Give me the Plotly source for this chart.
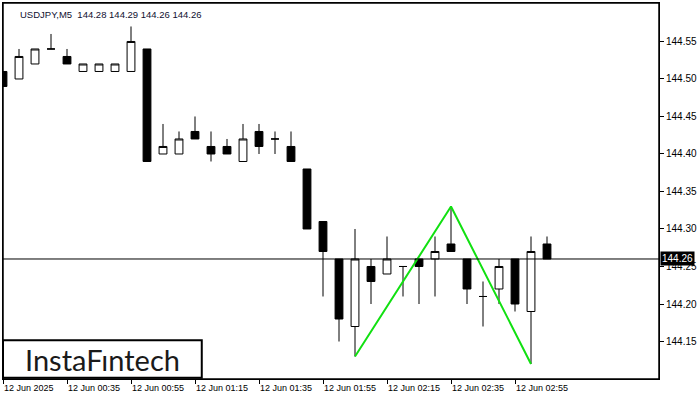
import pandas as pd
import plotly.graph_objects as go

# USDJPY M5 candles, 12 Jun 2025, from 00:15
times = pd.date_range("2025-06-12 00:15", periods=35, freq="5min")
opens = [144.51, 144.50, 144.52, 144.54, 144.53, 144.51, 144.51, 144.51, 144.51, 144.54,
         144.40, 144.40, 144.43, 144.41, 144.41, 144.39, 144.43, 144.42, 144.41, 144.38,
         144.31, 144.26, 144.17, 144.25, 144.24, 144.25, 144.26, 144.26, 144.28, 144.26,
         144.21, 144.22, 144.26, 144.19, 144.28]
highs = [144.51, 144.54, 144.54, 144.56, 144.54, 144.52, 144.52, 144.52, 144.57, 144.54,
         144.44, 144.43, 144.45, 144.43, 144.42, 144.44, 144.44, 144.43, 144.43, 144.38,
         144.31, 144.26, 144.30, 144.26, 144.29, 144.25, 144.26, 144.29, 144.33, 144.26,
         144.23, 144.26, 144.26, 144.29, 144.29]
lows = [144.49, 144.50, 144.52, 144.54, 144.52, 144.51, 144.51, 144.51, 144.51, 144.39,
        144.40, 144.40, 144.42, 144.39, 144.40, 144.39, 144.40, 144.40, 144.39, 144.30,
        144.21, 144.15, 144.13, 144.20, 144.24, 144.21, 144.20, 144.21, 144.27, 144.20,
        144.17, 144.20, 144.19, 144.12, 144.26]
closes = [144.49, 144.53, 144.54, 144.54, 144.52, 144.52, 144.52, 144.52, 144.55, 144.39,
          144.41, 144.42, 144.42, 144.40, 144.40, 144.42, 144.41, 144.42, 144.39, 144.30,
          144.27, 144.18, 144.26, 144.23, 144.26, 144.25, 144.25, 144.27, 144.27, 144.22,
          144.21, 144.25, 144.20, 144.27, 144.26]

# double bottom pattern: low, peak, low
pattern_idx = [22, 28, 33]
pattern_y = [144.13, 144.33, 144.12]

last_price = 144.26
tick_vals_y = [144.15, 144.20, 144.25, 144.30, 144.35, 144.40, 144.45, 144.50, 144.55]
tick_times = ["00:15", "00:35", "00:55", "01:15", "01:35", "01:55", "02:15", "02:35", "02:55"]
tick_text = ["12 Jun 2025", "12 Jun 00:35", "12 Jun 00:55", "12 Jun 01:15", "12 Jun 01:35",
             "12 Jun 01:55", "12 Jun 02:15", "12 Jun 02:35", "12 Jun 02:55"]

fig = go.Figure()
fig.add_trace(go.Candlestick(
    x=times, open=opens, high=highs, low=lows, close=closes,
    increasing=dict(line=dict(color="black", width=1), fillcolor="white"),
    decreasing=dict(line=dict(color="black", width=1), fillcolor="black"),
    whiskerwidth=0,
    showlegend=False, hoverinfo="skip",
))
fig.add_trace(go.Scatter(
    x=[times[i] for i in pattern_idx], y=pattern_y,
    mode="lines", line=dict(color="#11e011", width=2),
    showlegend=False, hoverinfo="skip",
))

# current price line + label
fig.add_shape(type="line", xref="paper", x0=0, x1=1, yref="y", y0=last_price, y1=last_price,
              line=dict(color="black", width=1))
fig.add_annotation(xref="paper", x=1, y=last_price, xanchor="left", yanchor="middle",
                   text="144.26", showarrow=False, xshift=1,
                   bgcolor="black", borderpad=1,
                   font=dict(family="Liberation Sans, Arial", size=10, color="white"))

# chart frame
fig.add_shape(type="rect", xref="paper", yref="paper", x0=0, x1=1, y0=0, y1=1,
              line=dict(color="black", width=1.5), layer="above")

# title
fig.add_annotation(xref="paper", yref="paper", x=0.023, y=0.99, xanchor="left", yanchor="top",
                   text="USDJPY,M5  144.28 144.29 144.26 144.26", showarrow=False,
                   font=dict(family="Liberation Sans, Arial", size=9.5, color="#101030"))

# logo box
fig.add_shape(type="rect", xref="paper", yref="paper", x0=0.0, x1=0.303, y0=0.003, y1=0.103,
              line=dict(color="black", width=2), fillcolor="white", layer="above")
fig.add_annotation(xref="paper", yref="paper", x=0.151, y=0.053, xanchor="center", yanchor="middle",
                   text="InstaFıntech", showarrow=False,
                   font=dict(family="Lato", size=29, color="#1a1a1a"))

start = times[0] - pd.Timedelta(seconds=0)
end = pd.Timestamp("2025-06-12 03:40")
fig.update_xaxes(
    range=[start, end], rangeslider_visible=False,
    tickvals=[pd.Timestamp("2025-06-12 " + t) for t in tick_times], ticktext=tick_text,
    ticks="outside", ticklen=4, tickcolor="black", ticklabelposition="outside right",
    showline=True, linecolor="black", linewidth=1, mirror=True, showgrid=False, zeroline=False,
    tickfont=dict(family="Liberation Sans, Arial", size=9, color="black"),
)
fig.update_yaxes(
    range=[144.10, 144.6013], side="right",
    tickvals=tick_vals_y, tickformat=".2f",
    ticks="outside", ticklen=4, tickcolor="black",
    showline=True, linecolor="black", linewidth=1, mirror=True, showgrid=False, zeroline=False,
    tickfont=dict(family="Liberation Sans, Arial", size=10, color="black"),
)
fig.update_layout(
    width=700, height=400, autosize=False,
    margin=dict(l=3, r=41, t=3, b=21),
    plot_bgcolor="white", paper_bgcolor="white",
)
# page body has an 8px default margin; drop it so the chart sits at 0,0
fig.write_html("out.html", config={"displayModeBar": False},
               post_script="document.body.style.margin='0';")
